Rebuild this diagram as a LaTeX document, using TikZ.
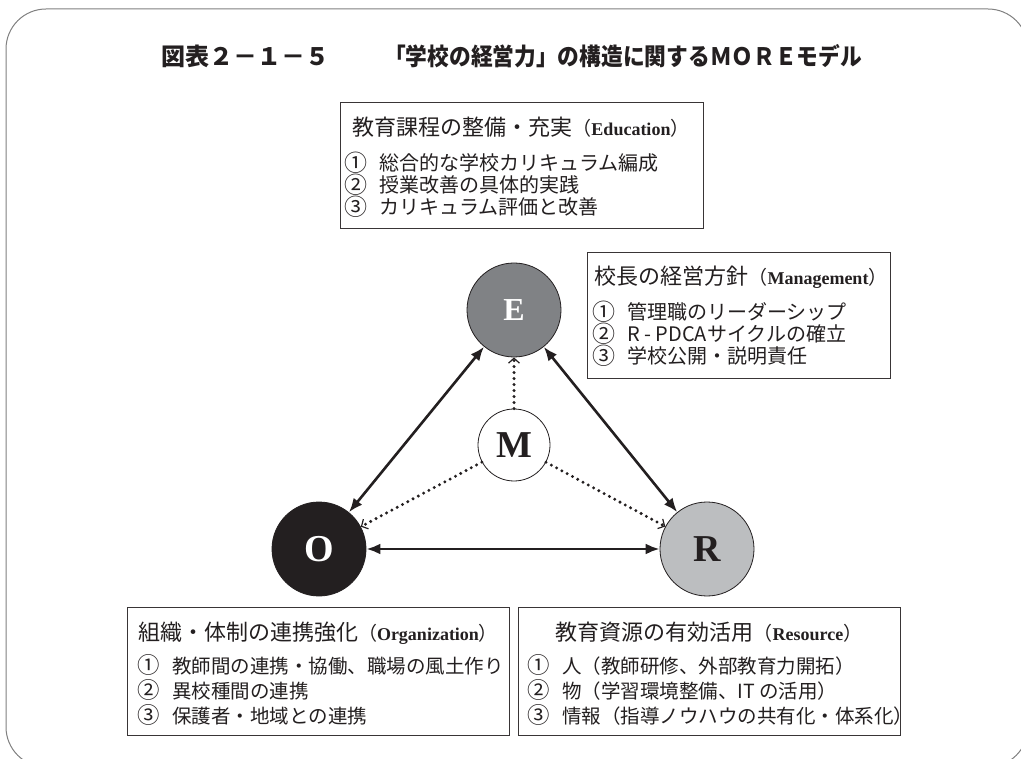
\documentclass[tikz,border=0pt]{standalone}
\usepackage{fontspec}
\setmainfont{Liberation Serif}
\newfontfamily\cjk{Noto Sans CJK JP}
\usetikzlibrary{arrows.meta}
\definecolor{ink}{HTML}{231F20}
\definecolor{egray}{HTML}{808285}
\definecolor{rgray}{HTML}{BCBEC0}
\definecolor{framegray}{HTML}{808080}
\tikzset{
  ball/.style={circle, draw=ink, line width=0.8pt, inner sep=0pt, minimum size=94pt,
    font=\fontsize{38}{38}\selectfont\bfseries},
  infobox/.style={draw=ink!90, line width=1.1pt, fill=white, inner sep=0pt, anchor=north west},
  head/.style={anchor=base, inner sep=0pt, text=ink, font=\cjk\fontsize{22}{22}\selectfont},
  item/.style={anchor=base west, inner sep=0pt, text=ink, font=\cjk\fontsize{20}{20}\selectfont},
  itemb/.style={item, font=\cjk\fontsize{19.5}{20}\selectfont},
  ttl/.style={anchor=west, inner sep=0pt, text=ink, font=\cjk\bfseries\fontsize{24}{24}\selectfont},
  both/.style={{Latex[length=14pt,width=11pt]}-{Latex[length=14pt,width=11pt]}, line width=2.6pt, draw=ink},
  mline/.style={dash pattern=on 0pt off 6pt, line cap=round, line width=3.3pt, draw=ink,
    -{Straight Barb[length=5pt,width=11pt,line width=1.2pt]}}
}
\newcommand{\en}[1]{{\fontsize{19}{19}\selectfont（}{\rmfamily\bfseries\fontsize{18}{18}\selectfont #1}{\fontsize{19}{19}\selectfont）}}
\newcommand{\num}[1]{\makebox[35pt][l]{\raisebox{-0.5pt}{\scalebox{1.15}{#1}}}}
\begin{document}
\begin{tikzpicture}[x=1pt,y=-1pt]
\useasboundingbox (0,0) rectangle (1021,759);
\begin{scope}
\clip (0,0) rectangle (1021,759);
\draw[framegray, line width=1pt, rounded corners=40pt] (6,9) rectangle (1028,767);
\end{scope}

% title
\node[ttl] (t1) at (161,56) {図表２－１－５};
\node[ttl] (t2) at (384,56) {\scalebox{0.905}[1]{「学校の経営力」の構造に関するＭＯＲＥモデル}};

% circles
\node[ball, fill=egray, text=white, font=\fontsize{32}{32}\selectfont\bfseries] (E) at (514,310) {E};
\node[ball, fill=white, text=ink, minimum size=72pt] (M) at (514,445) {M};
\node[ball, fill=ink, text=white] (O) at (319,549) {O};
\node[ball, fill=rgray, text=ink] (R) at (707,549) {R};

% connectors
\draw[both] (E) -- (O);
\draw[both] (E) -- (R);
\draw[both] (O) -- (R);
\draw[mline] (M) -- (E);
\draw[mline] (M) -- (O);
\draw[mline] (M) -- (R);

% Education box
\node[infobox, minimum width=363pt, minimum height=126pt] (eb) at (340,102) {};
\node[head] (eh) at (521,136) {教育課程の整備・充実\en{Education}};
\node[item] (e1) at (344,171) {\num{①}総合的な学校カリキュラム編成};
\node[item] (e2) at (344,193) {\num{②}授業改善の具体的実践};
\node[item] (e3) at (344,215) {\num{③}カリキュラム評価と改善};

% Management box
\node[infobox, minimum width=303pt, minimum height=126pt] (mb) at (587,252) {};
\node[head] (mh) at (741,285) {校長の経営方針\en{Management}};
\node[item] (m1) at (592,320) {\num{①}管理職のリーダーシップ};
\node[item] (m2) at (592,342) {\num{②}R - PDCAサイクルの確立};
\node[item] (m3) at (592,364) {\num{③}学校公開・説明責任};

% Organization box
\node[infobox, minimum width=382pt, minimum height=128pt] (ob) at (127,607) {};
\node[head] (oh) at (318,640) {組織・体制の連携強化\en{Organization}};
\node[itemb] (o1) at (137,673) {\num{①}教師間の連携・協働、職場の風土作り};
\node[itemb] (o2) at (137,698) {\num{②}異校種間の連携};
\node[itemb] (o3) at (137,723) {\num{③}保護者・地域との連携};

% Resource box
\node[infobox, minimum width=382pt, minimum height=128pt] (rb) at (518,607) {};
\node[head] (rh) at (709,640) {教育資源の有効活用\en{Resource}};
\node[itemb] (r1) at (527,673) {\num{①}人（教師研修、外部教育力開拓）};
\node[itemb] (r2) at (527,698) {\num{②}物（学習環境整備、IT の活用）};
\node[itemb] (r3) at (527,723) {\num{③}情報（指導ノウハウの共有化・体系化）};
\end{tikzpicture}
\end{document}
